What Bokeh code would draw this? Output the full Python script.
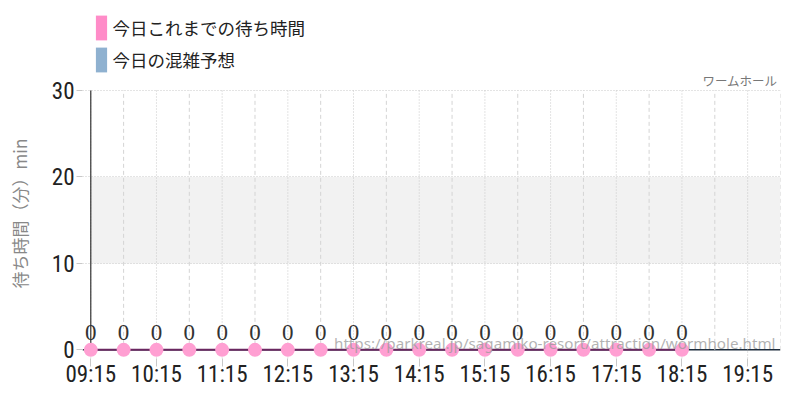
from bokeh.plotting import figure
from bokeh.models import (ColumnDataSource, Range1d, FixedTicker, LinearAxis, Legend,
                          LegendItem, Label, LabelSet, Span, BoxAnnotation, Grid)
from bokeh.embed import file_html
from bokeh.resources import INLINE

# ---- data ----
times = ["09:15", "09:45", "10:15", "10:45", "11:15", "11:45", "12:15", "12:45", "13:15",
         "13:45", "14:15", "14:45", "15:15", "15:45", "16:15", "16:45", "17:15", "17:45", "18:15"]
waits = [0, 0, 0, 0, 0, 0, 0, 0, 0, 0, 0, 0, 0, 0, 0, 0, 0, 0, 0]
forecast_times = ["09:15", "09:45", "10:15", "10:45", "11:15", "11:45", "12:15", "12:45", "13:15",
                  "13:45", "14:15", "14:45", "15:15", "15:45", "16:15", "16:45", "17:15", "17:45",
                  "18:15", "18:45", "19:15", "19:45"]
forecast = [0, 0, 0, 0, 0, 0, 0, 0, 0, 0, 0, 0, 0, 0, 0, 0, 0, 0, 0, 0, 0, 0]
hour_ticks = ["09:15", "10:15", "11:15", "12:15", "13:15", "14:15", "15:15", "16:15",
              "17:15", "18:15", "19:15"]
half_ticks = ["09:45", "10:45", "11:45", "12:45", "13:45", "14:45", "15:45", "16:45",
              "17:45", "18:45", "19:45"]
y_ticks = [0, 10, 20, 30]
busy_band = [10, 20]
x_start, x_end = "09:15", "19:45"
y_max = 30
attraction = "ワームホール"
url = "https://parkreal.jp/sagamiko-resort/attraction/wormhole.html"
series_names = ["今日これまでの待ち時間", "今日の混雑予想"]
y_label = "待ち時間（分）min"


def hrs(t):
    h, m = t.split(":")
    return int(h) + int(m) / 60.0


NUM = "Roboto Condensed, Liberation Sans Narrow, DejaVu Sans Condensed"
JP = "Noto Sans CJK JP"

x0 = hrs(x_start)
src = ColumnDataSource(dict(x=[hrs(t) for t in times], y=waits,
                            lbl=[str(v) for v in waits]))
fsrc = ColumnDataSource(dict(x=[hrs(t) for t in forecast_times], y=forecast))
hx = [hrs(t) for t in hour_ticks]
hx2 = [hrs(t) for t in half_ticks]

# The frame reaches the top of the canvas so the legend and name sit inside it;
# a small margin left of the start and below zero keeps the end markers unclipped.
p = figure(width=800, height=400, output_backend="svg", toolbar_location=None,
           x_range=Range1d(x0 - 0.126, hrs(x_end)), y_range=Range1d(-1, 40.4),
           x_axis_type=None, y_axis_type=None,
           min_border_left=82, min_border_right=20, min_border_top=0, min_border_bottom=42)
p.outline_line_color = None
p.background_fill_color = "white"
p.border_fill_color = "white"

# busy band
p.add_layout(BoxAnnotation(left=x0, bottom=busy_band[0], top=busy_band[1],
                           fill_color="#f2f2f2", fill_alpha=1, line_alpha=0, level="underlay"))

# grids
p.add_layout(Grid(dimension=1, ticker=FixedTicker(ticks=y_ticks[1:]),
                  grid_line_color="#c8c8c8", grid_line_dash="1 2"))
p.segment(x0=hx, y0=[-1] * len(hx), x1=hx, y1=[y_max] * len(hx),
          line_color="#c8c8c8", line_dash="1 2", line_width=1)
p.segment(x0=hx2, y0=[0] * len(hx2), x1=hx2, y1=[y_max] * len(hx2),
          line_color="#d4d4d4", line_dash="4 3", line_width=1)

# axes
yaxis = LinearAxis(ticker=FixedTicker(ticks=y_ticks), bounds=(0, y_max),
                   axis_line_color=None,
                   major_tick_out=6, major_tick_in=0, major_tick_line_color="#c8c8c8",
                   minor_tick_out=0, minor_tick_in=0,
                   major_label_text_font=NUM, major_label_text_font_size="23px",
                   major_label_text_color="#222222", major_label_standoff=2,
                   axis_label=y_label + "\u3000\u3000\u3000\u3000", axis_label_text_font=JP,
                   axis_label_text_font_size="17px", axis_label_text_font_style="normal",
                   axis_label_text_color="#888888", axis_label_standoff=17)
p.add_layout(yaxis, "left")

xaxis = LinearAxis(ticker=FixedTicker(ticks=hx),
                   major_label_overrides={hrs(t): t for t in hour_ticks},
                   axis_line_color=None, major_tick_out=8, major_tick_in=0,
                   major_tick_line_color="#c8c8c8", minor_tick_out=0, minor_tick_in=0,
                   major_label_text_font=NUM, major_label_text_font_size="23px",
                   major_label_text_color="#222222", major_label_standoff=-6)
p.add_layout(xaxis, "below")

# y axis line and zero baseline
p.segment(x0=[x0], y0=[0], x1=[x0], y1=[y_max], line_color="#333333", line_width=1.2)
p.add_layout(Span(location=0, dimension="width", line_color="#1e2d3d", line_width=1.5,
                  level="underlay"))

# bars (zero height) for legend
fbars = p.vbar(x="x", top="y", bottom=0, width=0.4, source=fsrc, fill_color="#8fb1d0",
               line_alpha=0)
pbars = p.vbar(x="x", top="y", bottom=0, width=0.4, source=src, fill_color="#ff8cc8",
               line_alpha=0)

# actual series
p.line(x="x", y="y", source=src, line_color="#6a2760", line_width=2)
p.scatter(x="x", y="y", source=src, size=14, fill_color="#ff9fd2", line_color=None)

# watermark
p.add_layout(Label(x=693, y=16, x_units="screen", y_units="screen", text=url,
                   text_align="right", text_baseline="alphabetic", text_font="Noto Sans",
                   text_font_size="15.2px", text_color="#999999", text_alpha=0.75))

# value labels
p.add_layout(LabelSet(x="x", y="y", text="lbl", source=src, y_offset=10,
                      text_align="center", text_baseline="alphabetic", text_font=NUM,
                      text_font_size="23px", text_color="#333333"))

# attraction name
p.add_layout(Label(x=695, y=278, x_units="screen", y_units="screen", text=attraction,
                   text_align="right", text_baseline="alphabetic", text_font=JP,
                   text_font_size="12.5px", text_color="#777777"))

legend = Legend(items=[LegendItem(label=series_names[0], renderers=[pbars]),
                       LegendItem(label=series_names[1], renderers=[fbars])],
                location=(11.6, 283), glyph_width=14, glyph_height=31, label_height=31,
                label_standoff=5, spacing=1, padding=0, margin=0,
                border_line_alpha=0, background_fill_alpha=0,
                label_text_font=JP, label_text_font_size="17.5px",
                label_text_color="#222222")
p.add_layout(legend)

open("out.html", "w").write(file_html(p, INLINE))
